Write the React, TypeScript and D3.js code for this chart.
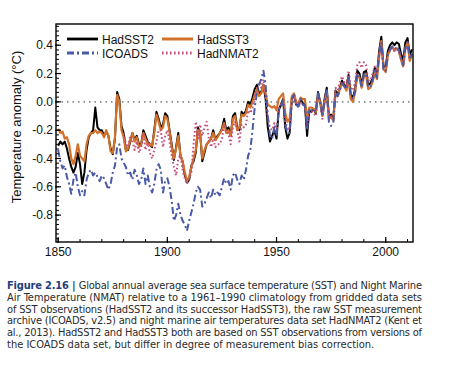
import * as d3 from 'd3'

const W = 453
const H = 387
const PLOT = { left: 56, right: 413, top: 24, bottom: 242 }

const START_YEAR = 1850
const NMAT_START = 1880

// Global annual anomalies (°C) relative to 1961–1990
const HADSST2 = [
  -0.31, -0.28, -0.30, -0.28, -0.33, -0.40, -0.46, -0.50, -0.46, -0.36,
  -0.44, -0.58, -0.50, -0.34, -0.25, -0.22, -0.20, -0.04, -0.18, -0.20,
  -0.20, -0.24, -0.21, -0.24, -0.33, -0.37, -0.26, 0.07, 0.02, -0.17,
  -0.22, -0.34, -0.34, -0.28, -0.22, -0.27, -0.24, -0.30, -0.30, -0.20,
  -0.24, -0.28, -0.30, -0.32, -0.20, -0.07, -0.12, -0.18, -0.16, -0.08,
  -0.10, -0.20, -0.30, -0.41, -0.32, -0.22, -0.38, -0.42, -0.52, -0.57,
  -0.55, -0.45, -0.42, -0.36, -0.18, -0.22, -0.42, -0.36, -0.30, -0.28,
  -0.26, -0.20, -0.27, -0.24, -0.22, -0.19, -0.12, -0.20, -0.18, -0.24,
  -0.10, -0.08, -0.18, -0.20, -0.07, -0.09, -0.06, 0.00, -0.02, 0.03,
  0.09, 0.12, 0.06, 0.07, 0.12, 0.02, -0.18, -0.28, -0.24, -0.20,
  -0.26, -0.06, -0.02, 0.02, -0.18, -0.26, -0.22, 0.02, 0.05, -0.02,
  -0.03, 0.02, -0.01, -0.02, -0.24, -0.06, -0.07, -0.05, -0.08, 0.07,
  0.00, -0.09, 0.02, 0.10, -0.10, -0.09, -0.12, 0.08, 0.05, 0.10,
  0.15, 0.12, 0.10, 0.19, 0.05, 0.03, 0.09, 0.22, 0.20, 0.12,
  0.21, 0.22, 0.12, 0.13, 0.17, 0.24, 0.19, 0.36, 0.46, 0.25,
  0.25, 0.36, 0.40, 0.42, 0.40, 0.42, 0.41, 0.34, 0.29, 0.42,
  0.45, 0.33, 0.37,
]

const HADSST3 = [
  -0.19, -0.22, -0.21, -0.26, -0.25, -0.30, -0.40, -0.44, -0.38, -0.30,
  -0.38, -0.40, -0.42, -0.30, -0.24, -0.22, -0.22, -0.20, -0.22, -0.21,
  -0.22, -0.25, -0.20, -0.24, -0.35, -0.36, -0.25, 0.05, 0.00, -0.20,
  -0.25, -0.35, -0.33, -0.27, -0.22, -0.28, -0.25, -0.32, -0.30, -0.22,
  -0.26, -0.30, -0.30, -0.31, -0.22, -0.09, -0.14, -0.20, -0.18, -0.10,
  -0.12, -0.21, -0.32, -0.40, -0.33, -0.24, -0.38, -0.42, -0.50, -0.56,
  -0.53, -0.46, -0.40, -0.34, -0.20, -0.22, -0.40, -0.34, -0.30, -0.28,
  -0.26, -0.22, -0.27, -0.25, -0.22, -0.20, -0.15, -0.22, -0.20, -0.24,
  -0.12, -0.10, -0.20, -0.18, -0.09, -0.10, -0.08, -0.02, -0.04, 0.00,
  0.05, 0.09, 0.04, 0.06, 0.12, 0.06, -0.02, -0.03, -0.04, -0.03,
  -0.06, 0.02, 0.04, 0.06, -0.08, -0.14, -0.12, 0.04, 0.06, 0.00,
  -0.01, 0.03, 0.02, 0.02, -0.12, -0.04, -0.04, -0.05, -0.07, 0.05,
  -0.01, -0.10, 0.00, 0.07, -0.12, -0.11, -0.13, 0.06, 0.04, 0.09,
  0.13, 0.11, 0.08, 0.17, 0.02, 0.00, 0.07, 0.19, 0.17, 0.10,
  0.18, 0.19, 0.09, 0.10, 0.14, 0.21, 0.16, 0.32, 0.43, 0.23,
  0.21, 0.33, 0.37, 0.39, 0.36, 0.38, 0.36, 0.30, 0.25, 0.38,
  0.42, 0.29, 0.33,
]

const ICOADS = [
  -0.34, -0.42, -0.47, -0.45, -0.53, -0.58, -0.65, -0.55, -0.50, -0.60,
  -0.66, -0.63, -0.66, -0.55, -0.50, -0.48, -0.52, -0.50, -0.53, -0.56,
  -0.52, -0.54, -0.58, -0.62, -0.58, -0.50, -0.45, -0.32, -0.30, -0.40,
  -0.43, -0.46, -0.52, -0.50, -0.55, -0.48, -0.52, -0.58, -0.55, -0.47,
  -0.58, -0.52, -0.60, -0.64, -0.58, -0.48, -0.44, -0.48, -0.64, -0.56,
  -0.54, -0.60, -0.70, -0.84, -0.80, -0.72, -0.80, -0.84, -0.87, -0.91,
  -0.84, -0.78, -0.72, -0.64, -0.60, -0.62, -0.74, -0.72, -0.68, -0.64,
  -0.68, -0.62, -0.66, -0.64, -0.66, -0.60, -0.54, -0.58, -0.56, -0.62,
  -0.52, -0.50, -0.55, -0.58, -0.52, -0.55, -0.48, -0.38, -0.34, -0.20,
  -0.04, 0.06, 0.12, 0.16, 0.22, 0.12, -0.10, -0.24, -0.26, -0.18,
  -0.24, -0.06, -0.03, 0.01, -0.16, -0.22, -0.22, 0.02, 0.05, -0.02,
  -0.03, 0.02, -0.02, -0.02, -0.20, -0.06, -0.06, -0.05, -0.07, 0.06,
  0.00, -0.10, 0.00, 0.08, -0.14, -0.17, -0.15, 0.06, 0.04, 0.08,
  0.13, 0.11, 0.09, 0.17, 0.04, 0.02, 0.07, 0.20, 0.18, 0.10,
  0.19, 0.20, 0.10, 0.11, 0.15, 0.22, 0.17, 0.33, 0.42, 0.22,
  0.22, 0.33, 0.37, 0.39, 0.37, 0.39, 0.37, 0.31, 0.26, 0.38,
  0.42, 0.30, 0.34,
]

const HADNMAT2 = [
  -0.22, -0.30, -0.32, -0.24, -0.28, -0.34, -0.28, -0.36, -0.32, -0.22,
  -0.34, -0.28, -0.36, -0.40, -0.34, -0.28, -0.20, -0.20, -0.32, -0.24,
  -0.20, -0.28, -0.38, -0.46, -0.52, -0.40, -0.38, -0.48, -0.54, -0.58,
  -0.54, -0.50, -0.30, -0.14, -0.26, -0.16, -0.24, -0.18, -0.14, -0.26,
  -0.32, -0.26, -0.32, -0.30, -0.30, -0.26, -0.16, -0.22, -0.22, -0.30,
  -0.18, -0.14, -0.20, -0.28, -0.16, -0.18, -0.16, -0.06, -0.08, -0.04,
  0.04, 0.10, 0.14, 0.10, 0.16, 0.04, -0.12, -0.18, -0.20, -0.15,
  -0.22, -0.05, -0.02, 0.02, -0.14, -0.18, -0.20, 0.00, 0.04, -0.02,
  -0.04, 0.00, -0.02, -0.03, -0.16, -0.08, -0.06, -0.08, -0.10, 0.05,
  0.00, -0.12, 0.00, 0.08, -0.12, -0.10, -0.12, 0.10, 0.08, 0.14,
  0.18, 0.14, 0.12, 0.22, 0.10, 0.08, 0.14, 0.26, 0.28, 0.24,
  0.28, 0.26, 0.15, 0.15, 0.20, 0.25, 0.20, 0.33, 0.42, 0.24,
  0.22, 0.33, 0.37, 0.38, 0.36, 0.37, 0.36, 0.30, 0.25, 0.37,
  0.39,
]

const X_LABELS = [1850, 1900, 1950, 2000]
const Y_LABELS = [-0.8, -0.6, -0.4, -0.2, 0.0, 0.2, 0.4]

const CAPTION = [
  'Global annual average sea surface temperature (SST) and Night Marine',
  'Air Temperature (NMAT) relative to a 1961–1990 climatology from gridded data sets',
  'of SST observations (HadSST2 and its successor HadSST3), the raw SST measurement',
  'archive (ICOADS, v2.5) and night marine air temperatures data set HadNMAT2 (Kent et',
  'al., 2013). HadSST2 and HadSST3 both are based on SST observations from versions of',
  'the ICOADS data set, but differ in degree of measurement bias correction.',
]

const SERIES = [
  { name: 'HadSST2', values: HADSST2, start: START_YEAR, color: '#000000', width: 2, dash: undefined },
  { name: 'HadSST3', values: HADSST3, start: START_YEAR, color: '#d2722a', width: 2.2, dash: undefined },
  { name: 'HadNMAT2', values: HADNMAT2, start: NMAT_START, color: '#c4507c', width: 2, dash: '1.6,2.4' },
  { name: 'ICOADS', values: ICOADS, start: START_YEAR, color: '#4a5aa6', width: 2, dash: '7,3,2,3' },
]

const FONT = 'Arial, "Liberation Sans", Helvetica, sans-serif'
const CAP_FONT = '"Liberation Sans Narrow", "DejaVu Sans Condensed", "Arial Narrow", sans-serif'

export default function App() {
  const x = d3.scaleLinear().domain([1849, 2012.5]).range([PLOT.left, PLOT.right])
  const y = d3.scaleLinear().domain([-0.99, 0.55]).range([PLOT.bottom, PLOT.top])

  const line = d3.line<[number, number]>()
    .x((d) => x(d[0]))
    .y((d) => y(d[1]))

  const minorX = d3.range(1850, 2011, 10)
  const minorY = d3.range(-29, 17).map((i) => (i * 0.2) / 6)

  const legendRows = [
    [SERIES[0], SERIES[1]],
    [SERIES[3], SERIES[2]],
  ]

  return (
    <svg width={W} height={H} style={{ position: 'absolute', left: 0, top: 0, background: '#fff' }}>
      <defs>
        <clipPath id="plot-clip">
          <rect x={PLOT.left} y={PLOT.top} width={PLOT.right - PLOT.left} height={PLOT.bottom - PLOT.top} />
        </clipPath>
      </defs>

      {/* zero line */}
      <line x1={PLOT.left} x2={PLOT.right} y1={y(0)} y2={y(0)}
        stroke="#8a8a8a" strokeWidth={1.6} strokeDasharray="1.5,4" />

      <g clipPath="url(#plot-clip)">
        {SERIES.map((s) => (
          <path key={s.name}
            d={line(s.values.map((v, i) => [s.start + i, v] as [number, number])) ?? ''}
            fill="none" stroke={s.color} strokeWidth={s.width}
            strokeDasharray={s.dash} strokeLinejoin="round" />
        ))}
      </g>

      {/* frame */}
      <rect x={PLOT.left} y={PLOT.top} width={PLOT.right - PLOT.left} height={PLOT.bottom - PLOT.top}
        fill="none" stroke="#000" strokeWidth={1.4} />

      {/* y ticks */}
      {minorY.map((v, i) => (
        <line key={`my${i}`} x1={PLOT.left} x2={PLOT.left + 3} y1={y(v)} y2={y(v)} stroke="#000" strokeWidth={1} />
      ))}
      {Y_LABELS.map((v) => (
        <g key={`y${v}`}>
          <line x1={PLOT.left - 1} x2={PLOT.left + 5} y1={y(v)} y2={y(v)} stroke="#000" strokeWidth={1.2} />
          <text x={PLOT.left - 3} y={y(v)} dy="0.35em" textAnchor="end"
            fontFamily={FONT} fontSize={12} fill="#111">{v.toFixed(1)}</text>
        </g>
      ))}

      {/* x ticks */}
      {minorX.map((yr) => (
        <line key={`mx${yr}`} x1={x(yr)} x2={x(yr)} y1={PLOT.bottom} y2={PLOT.bottom - 3} stroke="#000" strokeWidth={1} />
      ))}
      {X_LABELS.map((yr) => (
        <g key={`x${yr}`}>
          <line x1={x(yr)} x2={x(yr)} y1={PLOT.bottom + 1} y2={PLOT.bottom - 5} stroke="#000" strokeWidth={1.2} />
          <text x={x(yr)} y={256} textAnchor="middle" fontFamily={FONT} fontSize={12} fill="#111">{yr}</text>
        </g>
      ))}

      <text transform={`translate(21,127) rotate(-90)`} textAnchor="middle"
        fontFamily={FONT} fontSize={13} fill="#111">Temperature anomaly (°C)</text>

      {/* legend */}
      {legendRows.map((row, ri) => row.map((s, ci) => {
        const lx = ci === 0 ? 67 : 162
        const ly = 39 + ri * 14
        return (
          <g key={s.name}>
            <line x1={lx} x2={lx + 31} y1={ly} y2={ly} stroke={s.color}
              strokeWidth={s.width + 0.8} strokeDasharray={s.dash} />
            <text x={lx + (ci === 0 ? 35 : 35)} y={ly + 4.5} fontFamily={FONT} fontSize={12} fill="#111">{s.name}</text>
          </g>
        )
      }))}

      {/* caption */}
      {CAPTION.map((t, i) => {
        const last = i === CAPTION.length - 1
        return (
          <text key={i} x={7} y={289 + i * 11.8} fontFamily={CAP_FONT} fontSize={11} fill="#2a2a2a"
            textLength={last ? undefined : 415} lengthAdjust="spacing">
            {i === 0 && <tspan fontWeight="bold" fill="#24407a">Figure 2.16 |  </tspan>}
            {t}
          </text>
        )
      })}
    </svg>
  )
}
